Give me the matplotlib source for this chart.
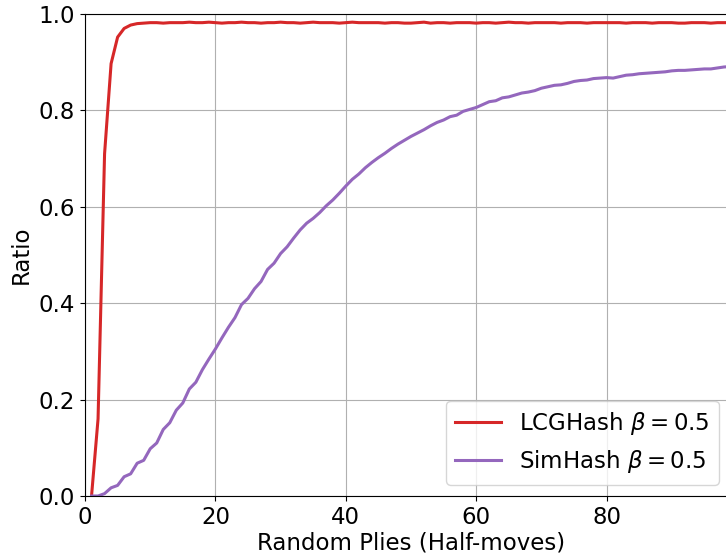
import matplotlib
matplotlib.use("Agg")
import matplotlib.pyplot as plt

plies = list(range(1, 100))

lcg_ratio = [
    0.0, 0.16, 0.71, 0.897, 0.952, 0.970, 0.977, 0.980, 0.981, 0.982,
    0.982, 0.981, 0.982, 0.982, 0.982, 0.983, 0.982, 0.982, 0.983, 0.982,
    0.981, 0.982, 0.982, 0.983, 0.982, 0.982, 0.981, 0.982, 0.982, 0.983,
    0.982, 0.982, 0.981, 0.982, 0.983, 0.982, 0.982, 0.982, 0.981, 0.982,
    0.983, 0.982, 0.982, 0.982, 0.982, 0.981, 0.982, 0.982, 0.981, 0.981,
    0.982, 0.983, 0.981, 0.982, 0.982, 0.981, 0.982, 0.982, 0.982, 0.981,
    0.982, 0.982, 0.981, 0.982, 0.983, 0.982, 0.982, 0.981, 0.982, 0.982,
    0.982, 0.982, 0.981, 0.982, 0.982, 0.982, 0.981, 0.982, 0.982, 0.982,
    0.982, 0.982, 0.981, 0.982, 0.982, 0.982, 0.981, 0.982, 0.982, 0.982,
    0.981, 0.981, 0.982, 0.982, 0.982, 0.981, 0.982, 0.982, 0.982,
]

sim_ratio = [
    0.0, 0.0, 0.005, 0.017, 0.022, 0.040, 0.046, 0.068, 0.074, 0.098,
    0.110, 0.138, 0.152, 0.178, 0.193, 0.222, 0.236, 0.262, 0.284, 0.305,
    0.328, 0.350, 0.370, 0.397, 0.410, 0.430, 0.445, 0.470, 0.483, 0.503,
    0.517, 0.535, 0.552, 0.566, 0.576, 0.588, 0.602, 0.614, 0.628, 0.643,
    0.657, 0.668, 0.681, 0.692, 0.702, 0.711, 0.721, 0.730, 0.738, 0.746,
    0.753, 0.760, 0.768, 0.775, 0.780, 0.787, 0.790, 0.798, 0.802, 0.806,
    0.812, 0.818, 0.820, 0.826, 0.828, 0.832, 0.836, 0.838, 0.841, 0.846,
    0.849, 0.852, 0.853, 0.856, 0.860, 0.862, 0.863, 0.866, 0.867, 0.868,
    0.867, 0.870, 0.873, 0.874, 0.876, 0.877, 0.878, 0.879, 0.880, 0.882,
    0.883, 0.883, 0.884, 0.885, 0.886, 0.886, 0.888, 0.890, 0.891,
]

plt.rcParams['font.size'] = 16.5

fig = plt.figure(figsize=(7.26, 5.59), dpi=100)
# axes run past the right edge on purpose, the reference is cropped there
ax = fig.add_axes([0.1171, 0.1127, 0.898, 0.8623])

ax.plot(plies, lcg_ratio, color='tab:red', linewidth=2.2, label=r'LCGHash $\beta = 0.5$')
ax.plot(plies, sim_ratio, color='tab:purple', linewidth=2.2, label=r'SimHash $\beta = 0.5$')

ax.set_xlim(0, 100)
ax.set_ylim(0, 1)
ax.set_xticks([0, 20, 40, 60, 80])
ax.grid(True)
ax.set_xlabel('Random Plies (Half-moves)', labelpad=2)
ax.set_ylabel('Ratio')
ax.legend(loc='lower right', bbox_to_anchor=(0.99, 0.0))

fig.savefig('out.png', dpi=100)
